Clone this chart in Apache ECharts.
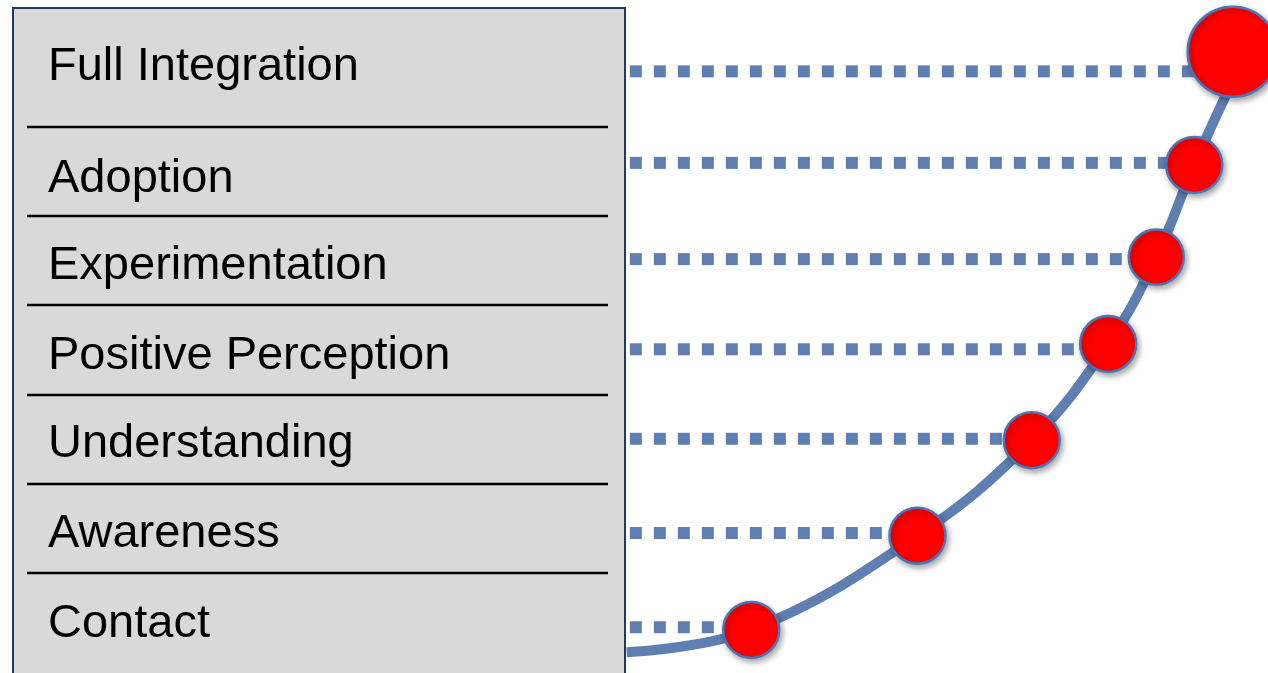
<!DOCTYPE html>
<html>
<head>
<meta charset="utf-8">
<script src="https://cdn.jsdelivr.net/npm/echarts@6/dist/echarts.min.js"></script>
<style>
html,body{margin:0;padding:0;background:#fff;}
#chart{width:1268px;height:673px;}
</style>
</head>
<body>
<div id="chart"></div>
<script>
// ---- data (bottom stage first) ----
const stages = ['Contact', 'Awareness', 'Understanding', 'Positive Perception', 'Experimentation', 'Adoption', 'Full Integration'];
const dotX = [19.5, 45.4, 63.2, 75.1, 82.6, 88.5, 94.5];
const dotY = [6.4, 20.4, 34.6, 48.9, 61.8, 75.5, 92.3];
const guideY = [6.8, 20.8, 34.8, 48.1, 61.5, 75.8, 89.4];
const guideStartX = 0.6;
const curveX = [0.1, 19.5, 45.4, 63.2, 75.1, 82.6, 88.5, 95.3];
const curveY = [3.1, 6.4, 20.4, 34.6, 48.9, 61.8, 75.5, 89.6];

// ---- layout / style (kept separate from data) ----
const dotSize = [56, 56, 56, 56, 55, 56, 90];
const labelBaseline = [637, 547, 457, 369, 279, 192, 80]; // same order as stages
const separatorY = [127, 216, 305, 395, 484, 573];
const blue = '#5F7FB2';

const chart = echarts.init(document.getElementById('chart'), null, {renderer: 'canvas'});

const graphics = [{
  type: 'rect', z: 0,
  shape: {x: 13, y: 8, width: 612, height: 720},
  style: {fill: '#D9D9D9', stroke: '#1F3864', lineWidth: 2}
}];
separatorY.forEach(y => graphics.push({
  type: 'line', z: 1,
  shape: {x1: 27, y1: y, x2: 608, y2: y},
  style: {stroke: '#000', lineWidth: 2.5}
}));
stages.forEach((s, i) => graphics.push({
  type: 'text', z: 2,
  style: {
    text: s, x: 48, y: labelBaseline[i] - 13,
    font: '47px "Liberation Sans", Arial, sans-serif',
    fill: '#000', verticalAlign: 'middle', align: 'left'
  }
}));

const series = [];
stages.forEach((s, i) => series.push({
  type: 'line', name: s + ' guide', z: 2, silent: true,
  symbol: 'none',
  data: [[guideStartX, guideY[i]], [dotX[i], guideY[i]]],
  lineStyle: {color: blue, width: 12, type: [12, 12], cap: 'butt'}
}));
series.push({
  type: 'line', name: 'curve', z: 3, silent: true,
  symbol: 'none', smooth: 0.4,
  data: curveX.map((x, i) => [x, curveY[i]]),
  lineStyle: {color: blue, width: 10, cap: 'butt'}
});
series.push({
  type: 'scatter', name: 'stages', z: 4, clip: false,
  data: dotX.map((x, i) => ({value: [x, dotY[i]], symbolSize: dotSize[i], name: stages[i]})),
  itemStyle: {
    color: '#FF0000', borderColor: '#4A76B8', borderWidth: 2.5, opacity: 1,
    shadowBlur: 6, shadowColor: 'rgba(0,0,0,0.35)', shadowOffsetX: 2, shadowOffsetY: 3
  }
});

chart.setOption({
  animation: false,
  grid: {left: 626, right: 0, top: 0, bottom: 0, containLabel: false},
  xAxis: {type: 'value', min: 0, max: 100, show: false},
  yAxis: {type: 'value', min: 0, max: 100, show: false},
  graphic: graphics,
  series: series
});
</script>
</body>
</html>
